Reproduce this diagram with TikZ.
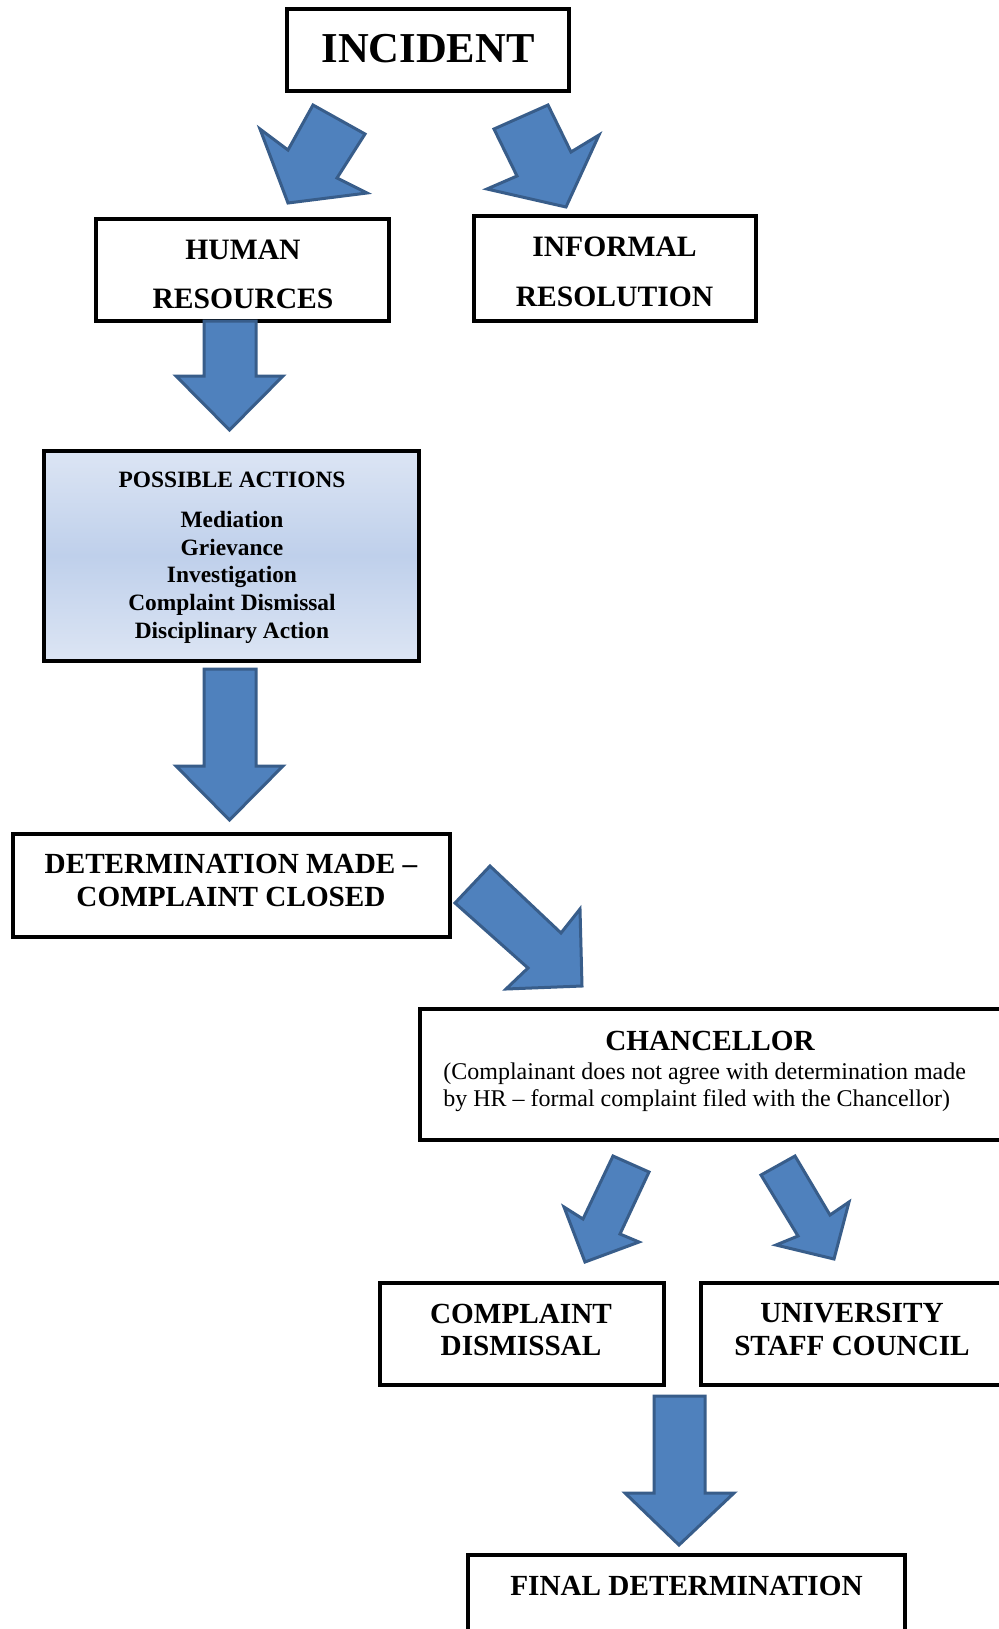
\documentclass[tikz,border=0pt]{standalone}
\usepackage{fontspec}
\setmainfont{Liberation Serif}
\definecolor{arrfill}{HTML}{4F81BD}
\definecolor{arrline}{HTML}{385D8A}
\definecolor{pat}{HTML}{DCE5F4}
\definecolor{pam}{HTML}{BFD0EB}
\begin{document}
\begin{tikzpicture}[x=0.5pt,y=-0.5pt,
  box/.style={draw=black,line width=2pt,rectangle,inner sep=0pt},
  blockarrow/.style={fill=arrfill,draw=arrline,line width=1.5pt,line join=miter},
  txt/.style={anchor=base,inner sep=0pt},
  fbig/.style={font=\bfseries\fontsize{21.3}{25}\selectfont},
  fhead/.style={font=\bfseries\fontsize{14.6}{17}\selectfont},
  fhr/.style={font=\bfseries\fontsize{14.8}{17}\selectfont},
  fpa/.style={font=\bfseries\fontsize{11.7}{14}\selectfont},
  freg/.style={font=\fontsize{12}{14}\selectfont}]
\useasboundingbox (0,0) rectangle (999,1629);
\clip (0,0) rectangle (999,1629);
\fill[white] (0,0) rectangle (999,1629);

% boxes
\node[box,minimum width=141pt,minimum height=41pt] (inc) at (428,50) {};
\node[box,minimum width=146.5pt,minimum height=51pt] (hr) at (242.5,270) {};
\node[box,minimum width=140.75pt,minimum height=52.5pt] (inf) at (614.75,268.5) {};
\node[box,minimum width=187.5pt,minimum height=105pt,top color=pat,bottom color=pat,middle color=pam] (pa) at (231.5,555.5) {};
\node[box,minimum width=218.25pt,minimum height=51.25pt] (det) at (231.25,885.25) {};
\node[box,minimum width=300.25pt,minimum height=65.25pt] (chan) at (719.75,1074.25) {};
\node[box,minimum width=142.25pt,minimum height=51pt] (cd) at (521.75,1333.5) {};
\node[box,minimum width=159.5pt,minimum height=51pt] (usc) at (860.5,1333.5) {};
\node[box,minimum width=218.25pt,minimum height=47.5pt] (fin) at (686.25,1602.5) {};

% texts
\node[txt,fbig] (tinc) at (428,62) {INCIDENT};
\node[txt,fhr] (thr1) at (243,259) {HUMAN};
\node[txt,fhr] (thr2) at (243,308) {RESOURCES};
\node[txt,fhr] (tinf1) at (614.5,256) {INFORMAL};
\node[txt,fhr] (tinf2) at (614.5,306) {RESOLUTION};
\node[txt,fpa] (tpa0) at (232,487) {POSSIBLE ACTIONS};
\node[txt,fpa] (tpa1) at (232,527.5) {Mediation};
\node[txt,fpa] (tpa2) at (232,555) {Grievance};
\node[txt,fpa] (tpa3) at (232,582.7) {Investigation};
\node[txt,fpa] (tpa4) at (232,610.3) {Complaint Dismissal};
\node[txt,fpa] (tpa5) at (232,638) {Disciplinary Action};
\node[txt,fhead] (tdet1) at (231,873.5) {DETERMINATION MADE –};
\node[txt,fhead] (tdet2) at (231,906.8) {COMPLAINT CLOSED};
\node[txt,fhead] (tchan) at (710,1050) {CHANCELLOR};
\node[txt,freg,anchor=base west] (tchan1) at (443,1079.5) {(Complainant does not agree with determination made};
\node[txt,freg,anchor=base west] (tchan2) at (443,1106) {by HR – formal complaint filed with the Chancellor)};
\node[txt,fhead] (tcd1) at (521,1323) {COMPLAINT};
\node[txt,fhead] (tcd2) at (521,1355) {DISMISSAL};
\node[txt,fhead] (tusc1) at (852,1322) {UNIVERSITY};
\node[txt,fhead] (tusc2) at (852,1355) {STAFF COUNCIL};
\node[txt,fhead] (tfin) at (686.5,1595) {FINAL DETERMINATION};

% block arrows
\draw[blockarrow] (313,105) -- (365,134) -- (337,178) -- (367,193) -- (288,203) -- (260,129) -- (288,150) -- cycle;
\draw[blockarrow] (548,105) -- (571,152) -- (599,135) -- (566,207) -- (487,189) -- (517,176) -- (494,129) -- cycle;
\draw[blockarrow] (204,321) -- (256,321) -- (256,376) -- (283,376) -- (229.5,430) -- (176,376) -- (204,376) -- cycle;
\draw[blockarrow] (204,669) -- (256,669) -- (256,766) -- (283,766) -- (229.5,820) -- (176,766) -- (204,766) -- cycle;
\draw[blockarrow] (455,903) -- (490,866) -- (561,933) -- (580,909) -- (582,986) -- (506,989) -- (528,968) -- cycle;
\draw[blockarrow] (613,1156) -- (649,1172) -- (620,1234) -- (639,1242) -- (585,1262) -- (564,1207) -- (583,1219) -- cycle;
\draw[blockarrow] (795,1156) -- (830,1215) -- (849,1202) -- (834,1259) -- (776,1245) -- (798,1236) -- (761,1175) -- cycle;
\draw[blockarrow] (654,1396) -- (705,1396) -- (705,1493) -- (734,1493) -- (679,1545) -- (625,1493) -- (654,1493) -- cycle;
\end{tikzpicture}
\end{document}
